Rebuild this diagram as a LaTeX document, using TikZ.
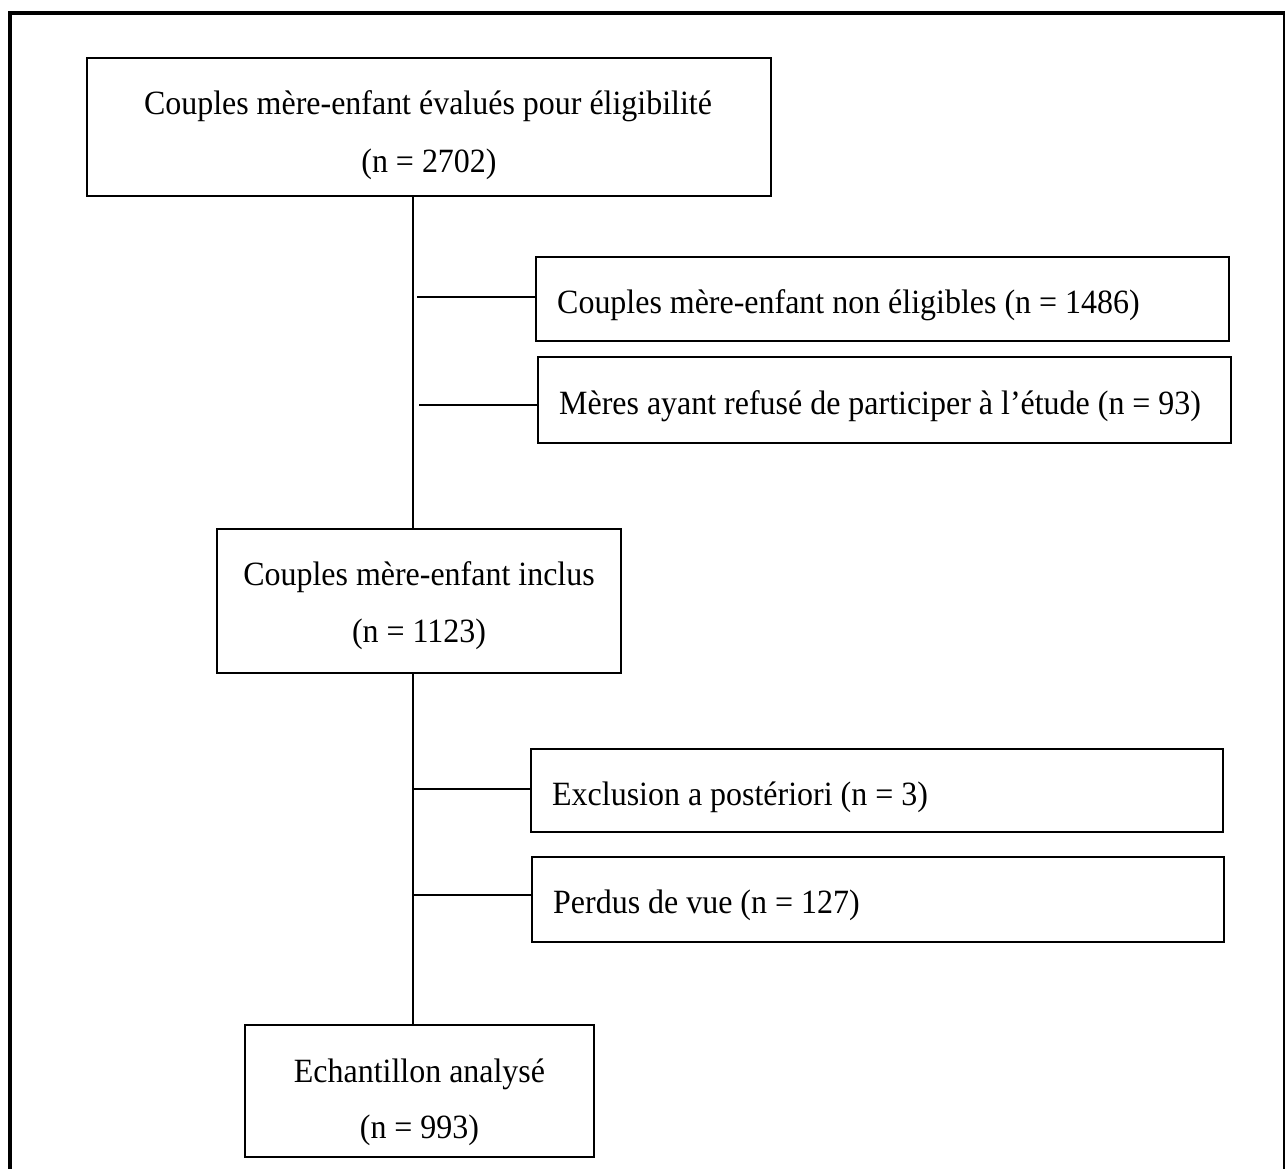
\documentclass[tikz,border=0pt]{standalone}
\usepackage{fontspec}
\setmainfont[FakeStretch=0.94]{Liberation Serif}
\begin{document}
\begin{tikzpicture}[x=1pt,y=-1pt,
  box/.style={draw,line width=1.5pt,rectangle,inner sep=0pt},
  txt/.style={font=\fontsize{34}{40}\selectfont,inner sep=0pt,anchor=base},
  txtl/.style={txt,anchor=base west},
  link/.style={line width=1.5pt}]
\useasboundingbox (0,0) rectangle (1285,1169);
\fill[white] (0,0) rectangle (1285,1169);
% outer frame
\draw[line width=4pt] (10,1169) -- (10,13) -- (1283,13);
\draw[line width=2pt] (1284,11) -- (1284,1169);
% boxes
\node[box, minimum width=684pt, minimum height=138pt] (b1) at (429,127) {};
\node[box, minimum width=693pt, minimum height=84pt] (ne) at (882.5,299) {};
\node[box, minimum width=693pt, minimum height=86pt] (mr) at (884.5,400) {};
\node[box, minimum width=404pt, minimum height=144pt] (b2) at (419,601) {};
\node[box, minimum width=692pt, minimum height=83pt] (ex) at (877,790.5) {};
\node[box, minimum width=692pt, minimum height=85pt] (pv) at (878,899.5) {};
\node[box, minimum width=349pt, minimum height=132pt] (b3) at (419.5,1091) {};
% texts
\node[txt] (t1a) at (428,115) {Couples mère-enfant évalués pour éligibilité};
\node[txt] (t1b) at (429,173) {(n = 2702)};
\node[txtl] (tne) at (557,313) {Couples mère-enfant non éligibles (n = 1486)};
\node[txtl] (tmr) at (559,414) {Mères ayant refusé de participer à l’étude (n = 93)};
\node[txt] (t2a) at (419,585) {Couples mère-enfant inclus};
\node[txt] (t2b) at (419,642) {(n = 1123)};
\node[txtl] (tex) at (552,805) {Exclusion a postériori (n = 3)};
\node[txtl] (tpv) at (553,913) {Perdus de vue (n = 127)};
\node[txt] (t3a) at (419.5,1082) {Echantillon analysé};
\node[txt] (t3b) at (419.5,1138) {(n = 993)};
% connectors
\coordinate (sp) at (413,0);
\draw[link] (b1.south -| sp) -- (b2.north -| sp);
\draw[link] (b2.south -| sp) -- (b3.north -| sp);
\draw[link] ([xshift=4pt,yshift=2pt]ne.west -| sp) -- ([yshift=2pt]ne.west);
\draw[link] ([xshift=6pt,yshift=-5pt]mr.west -| sp) -- ([yshift=-5pt]mr.west);
\draw[link] ([yshift=1.5pt]ex.west -| sp) -- ([yshift=1.5pt]ex.west);
\draw[link] ([yshift=4.5pt]pv.west -| sp) -- ([yshift=4.5pt]pv.west);
\end{tikzpicture}
\end{document}
